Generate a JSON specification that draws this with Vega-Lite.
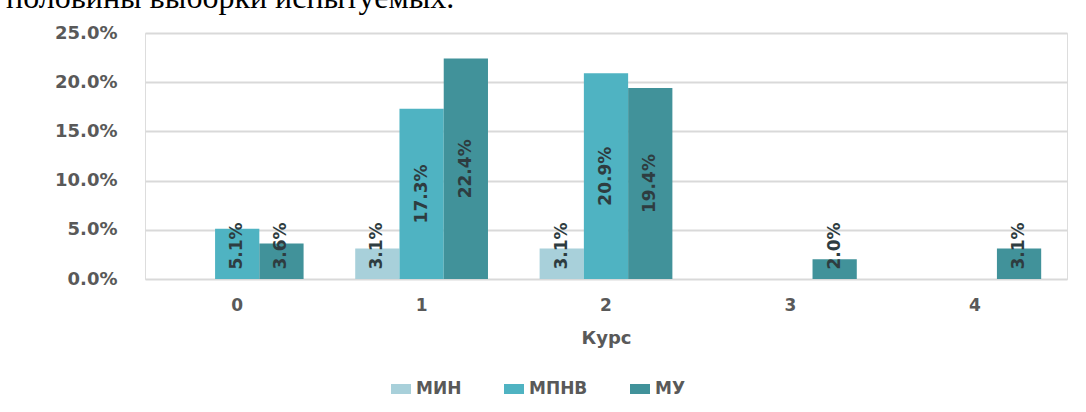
{
  "$schema": "https://vega.github.io/schema/vega-lite/v6.json",
  "width": 922,
  "height": 246,
  "autosize": {"type": "none"},
  "padding": {"left": 145, "top": 33, "right": 19, "bottom": 133},
  "background": "white",
  "title": {
    "text": "половины выборки испытуемых.",
    "anchor": "start",
    "frame": "group",
    "font": "Liberation Serif",
    "fontSize": 32,
    "fontWeight": "normal",
    "color": "#000000",
    "baseline": "alphabetic",
    "offset": 0,
    "dx": -139,
    "dy": 16
  },
  "data": {
    "values": [
      {"course": "0", "group": "МПНВ", "value": 0.051},
      {"course": "0", "group": "МУ", "value": 0.036},
      {"course": "1", "group": "МИН", "value": 0.031},
      {"course": "1", "group": "МПНВ", "value": 0.173},
      {"course": "1", "group": "МУ", "value": 0.224},
      {"course": "2", "group": "МИН", "value": 0.031},
      {"course": "2", "group": "МПНВ", "value": 0.209},
      {"course": "2", "group": "МУ", "value": 0.194},
      {"course": "3", "group": "МУ", "value": 0.020},
      {"course": "4", "group": "МУ", "value": 0.031}
    ]
  },
  "encoding": {
    "x": {
      "field": "course",
      "type": "nominal",
      "title": "Курс",
      "sort": ["0", "1", "2", "3", "4"],
      "scale": {"domain": ["0", "1", "2", "3", "4"], "paddingInner": 0.28, "paddingOuter": 0.14},
      "axis": {
        "labelAngle": 0,
        "labelFont": "DejaVu Sans",
        "labelFontWeight": "bold",
        "labelFontSize": 17,
        "labelColor": "#595959",
        "labelPadding": 18,
        "ticks": false,
        "domain": false,
        "titleFont": "DejaVu Sans",
        "titleFontSize": 18,
        "titleFontWeight": "bold",
        "titleColor": "#595959",
        "titlePadding": 16
      }
    },
    "xOffset": {
      "field": "group",
      "type": "nominal",
      "scale": {"domain": ["МИН", "МПНВ", "МУ"], "paddingInner": 0, "paddingOuter": 0}
    }
  },
  "layer": [
    {
      "mark": {"type": "bar"},
      "encoding": {
        "y": {
          "field": "value",
          "type": "quantitative",
          "scale": {"domain": [0, 0.25], "nice": false},
          "axis": {
            "title": null,
            "format": ".1%",
            "values": [0, 0.05, 0.1, 0.15, 0.2, 0.25],
            "domain": false,
            "ticks": false,
            "labelPadding": 28,
            "labelFont": "DejaVu Sans",
            "labelFontWeight": "bold",
            "labelFontSize": 18,
            "labelColor": "#595959",
            "grid": true,
            "gridColor": "#d9d9d9",
            "gridWidth": 2
          }
        },
        "color": {
          "field": "group",
          "type": "nominal",
          "scale": {"domain": ["МИН", "МПНВ", "МУ"], "range": ["#a8d0da", "#4fb3c2", "#41929a"]},
          "legend": {
            "title": null,
            "orient": "none",
            "legendX": 246,
            "legendY": 346,
            "direction": "horizontal",
            "symbolType": "M-1,-0.5H1V0.5H-1Z",
            "symbolSize": 400,
            "symbolStrokeWidth": 0,
            "labelFont": "DejaVu Sans",
            "labelFontWeight": "bold",
            "labelFontSize": 17,
            "labelColor": "#595959",
            "labelOffset": 5,
            "columnPadding": 42
          }
        }
      }
    },
    {
      "mark": {
        "type": "text",
        "angle": 270,
        "align": "center",
        "baseline": "middle",
        "font": "DejaVu Sans",
        "fontWeight": "bold",
        "fontSize": 17,
        "color": "#2e3c40"
      },
      "encoding": {
        "y": {
          "field": "value",
          "type": "quantitative",
          "scale": {"domain": [0.0671, 0.5], "range": [213, 0], "clamp": true, "nice": false, "zero": false},
          "axis": null
        },
        "text": {"field": "value", "type": "quantitative", "format": ".1%"}
      }
    }
  ],
  "resolve": {"scale": {"y": "independent"}}
}
